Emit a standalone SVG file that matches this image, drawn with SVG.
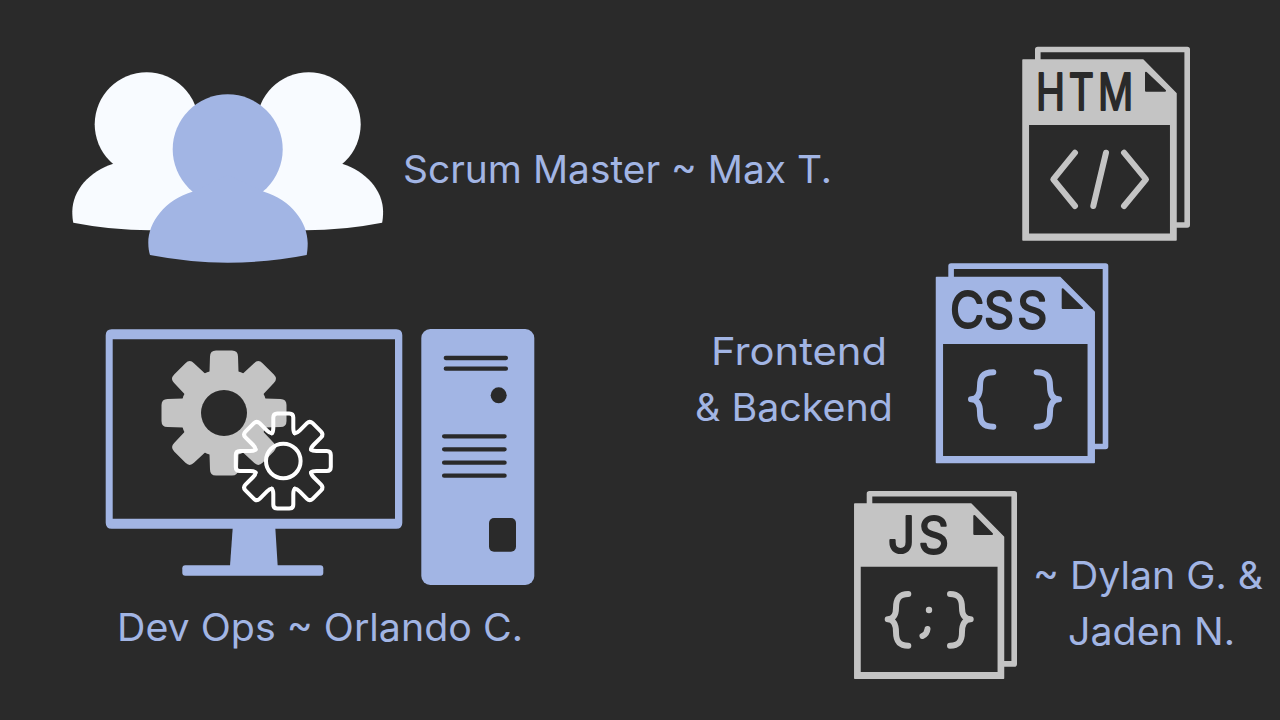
<svg xmlns="http://www.w3.org/2000/svg" xmlns:xlink="http://www.w3.org/1999/xlink" width="1280" height="720" viewBox="0 0 1280 720">
<style>
.lbl{font-family:Inter,"Open Sans",sans-serif;font-size:38.5px;fill:#a2b5e4}
.ico{font-family:Inter,"Open Sans",sans-serif;font-weight:400;fill:#2a2a2a;stroke:#2a2a2a;stroke-width:2;stroke-linejoin:round}
.gl{fill:none;stroke-width:6;stroke-linecap:round;stroke-linejoin:round}
.sl{fill:none;stroke:#2a2a2a;stroke-width:4.3;stroke-linecap:round}
.sheet{fill:none;stroke-width:5.6;stroke-linejoin:round}
.b{fill:#a2b5e4}.g{fill:#c4c4c4}.w{fill:#f8fbff}.d{fill:#2a2a2a}
</style>
<defs>
<path id="gt" d="M-14.5 -41 L-14 -56.5 Q-14 -62.5 -8 -62.5 L8 -62.5 Q14 -62.5 14 -56.5 L14.5 -41 Z"/>
<path id="wt" d="M-11.5 -27.7 Q-10 -29 -10 -33 L-10 -43.5 Q-10 -47.5 -6 -47.5 L6 -47.5 Q10 -47.5 10 -43.5 L10 -33 Q10 -29 11.5 -27.7" fill="none" stroke="#fff" stroke-width="4" stroke-linecap="round" stroke-linejoin="round"/>
</defs>
<rect width="1280" height="720" fill="#2a2a2a"/>
<g id="team">
<circle class="w" cx="146.7" cy="124.3" r="52"/>
<path class="w" d="M113.3 163.7 C90 171 72.3 190 72.3 211.7 C72.3 216 72.6 219.5 73.3 222.7 Q112 230.3 150 230.3 L230 230.3 L230 160 L140 160 Z"/>
<circle class="w" cx="308.7" cy="124.3" r="52"/>
<path class="w" d="M342.1 163.7 C365.4 171 383.1 190 383.1 211.7 C383.1 216 382.8 219.5 382.1 222.7 Q343.4 230.3 305.4 230.3 L225 230.3 L225 160 L315 160 Z"/>
<circle class="b" cx="227.7" cy="149.3" r="55"/>
<path class="b" d="M192.3 191.7 C165 200 148.3 222 148.3 243 C148.3 248 149 252 150 255 Q190 262.7 227.7 262.7 Q268 262.7 306.7 255 C307.3 252 307.7 248 307.7 243 C307.7 222 291 200 264 191.7 L228 175 Z"/>
</g>
<g id="monitor">
<path class="b" fill-rule="evenodd" d="M111.7 329.3 H396.3 Q402.3 329.3 402.3 335.3 V522.7 Q402.3 528.7 396.3 528.7 H111.7 Q105.7 528.7 105.7 522.7 V335.3 Q105.7 329.3 111.7 329.3 Z M112.7 339.3 V518.7 H395 V339.3 Z"/>
<path class="b" d="M232.7 528 H275.3 L277.7 566 H230 Z"/>
<rect class="b" x="182.3" y="565.3" width="141" height="10.4" rx="3"/>
</g>
<g id="gear-gray" class="g" transform="translate(224 413)">
<circle r="44"/>
<use xlink:href="#gt"/>
<use xlink:href="#gt" transform="rotate(45)"/>
<use xlink:href="#gt" transform="rotate(90)"/>
<use xlink:href="#gt" transform="rotate(135)"/>
<use xlink:href="#gt" transform="rotate(180)"/>
<use xlink:href="#gt" transform="rotate(225)"/>
<use xlink:href="#gt" transform="rotate(270)"/>
<use xlink:href="#gt" transform="rotate(315)"/>
<circle class="d" r="23"/>
</g>
<g id="gear-white" transform="translate(283.3 461)">
<use xlink:href="#wt"/>
<use xlink:href="#wt" transform="rotate(45)"/>
<use xlink:href="#wt" transform="rotate(90)"/>
<use xlink:href="#wt" transform="rotate(135)"/>
<use xlink:href="#wt" transform="rotate(180)"/>
<use xlink:href="#wt" transform="rotate(225)"/>
<use xlink:href="#wt" transform="rotate(270)"/>
<use xlink:href="#wt" transform="rotate(315)"/>
<circle r="17.3" fill="none" stroke="#fff" stroke-width="4"/>
</g>
<g id="tower">
<rect class="b" x="421.3" y="329" width="113" height="256" rx="9"/>
<path class="sl" d="M445.8 358H505.9M445.8 368.7H505.9M444.1 436.3H504.6M444.1 449.3H504.6M444.1 462.7H504.6M444.1 475.7H504.6"/>
<circle class="d" cx="498.7" cy="395.3" r="8"/>
<rect class="d" x="489" y="518" width="27" height="33.7" rx="5"/>
</g>
<g id="file-html">
<path class="sheet" stroke="#c4c4c4" d="M1037.8 62V49.5H1187.2V225H1174"/>
<path class="g" fill-rule="evenodd" stroke="#c4c4c4" stroke-width="1.5" stroke-linejoin="round" d="M1023 60H1143L1176 93.6V240H1023Z M1028.3 124.3V234.3H1170.7V124.3Z"/>
<path class="d" stroke="#2a2a2a" stroke-width="2" stroke-linejoin="round" d="M1146 72.7V90.7H1165Z"/>
<text class="ico" transform="translate(1036 109.5) scale(.78 1)" x="0 42 79.5" y="0" font-size="50">HTM</text>
<path class="gl" stroke="#c4c4c4" d="M1075 152.7L1053.3 179.3L1075 206M1106 152.7L1093.3 206M1124 152.7L1146 179.3L1124 206"/>
</g>
<g id="file-css">
<path class="sheet" stroke="#a2b5e4" d="M951.1 279V266.1H1105.5V446.5H1092"/>
<path class="b" fill-rule="evenodd" stroke="#a2b5e4" stroke-width="1.5" stroke-linejoin="round" d="M936.5 277.5H1060L1094.2 312V462.5H936.5Z M942.3 343.3V456.7H1088.3V343.3Z"/>
<path class="d" stroke="#2a2a2a" stroke-width="2" stroke-linejoin="round" d="M1062.7 289.3V308H1082Z"/>
<text class="ico" transform="translate(950 328) scale(.92 1)" x="0 37 73" y="0" font-size="51">CSS</text>
<path class="gl" stroke="#a2b5e4" d="M993.3 372.3C982 372.3 980 378 980 386C980 395 977 399.3 971 399.3C977 399.3 980 404 980 412C980 421 982 426.7 993.3 426.7M1036.7 372.3C1048 372.3 1050 378 1050 386C1050 395 1053 399.3 1059 399.3C1053 399.3 1050 404 1050 412C1050 421 1048 426.7 1036.7 426.7"/>
</g>
<g id="file-js">
<path class="sheet" stroke="#c4c4c4" d="M869.5 506V493.8H1014.2V663.9H1002"/>
<path class="g" fill-rule="evenodd" stroke="#c4c4c4" stroke-width="1.5" stroke-linejoin="round" d="M854.8 504H971L1003.5 537V678.2H854.8Z M860 566V672.7H998.3V566Z"/>
<path class="d" stroke="#2a2a2a" stroke-width="2" stroke-linejoin="round" d="M974.3 516V534H992Z"/>
<text class="ico" transform="translate(888 553) scale(.95 1)" x="0 32" y="0" font-size="50">JS</text>
<path class="gl" stroke="#c4c4c4" d="M908.3 594C898 594 896 600 896 608C896 615 893 619.3 887.7 619.3C893 619.3 896 624 896 632C896 640 898 645.7 908.3 645.7M950 594C960 594 962 600 962 608C962 615 965 619.3 970.7 619.3C965 619.3 962 624 962 632C962 640 960 645.7 950 645.7M927.5 629Q927 634 922.5 636"/>
<circle class="g" cx="929" cy="610" r="3.2"/>
</g>
<g id="labels">
<text class="lbl" x="403" y="183" textLength="429" lengthAdjust="spacingAndGlyphs">Scrum Master ~ Max T.</text>
<text class="lbl" x="711" y="365" textLength="176" lengthAdjust="spacingAndGlyphs">Frontend</text>
<text class="lbl" x="695" y="421" textLength="198" lengthAdjust="spacingAndGlyphs">&amp; Backend</text>
<text class="lbl" x="117" y="641" textLength="406" lengthAdjust="spacingAndGlyphs">Dev Ops ~ Orlando C.</text>
<text class="lbl" x="1033" y="589" textLength="230" lengthAdjust="spacingAndGlyphs">~ Dylan G. &amp;</text>
<text class="lbl" x="1068" y="645" textLength="167" lengthAdjust="spacingAndGlyphs">Jaden N.</text>
</g>
</svg>
